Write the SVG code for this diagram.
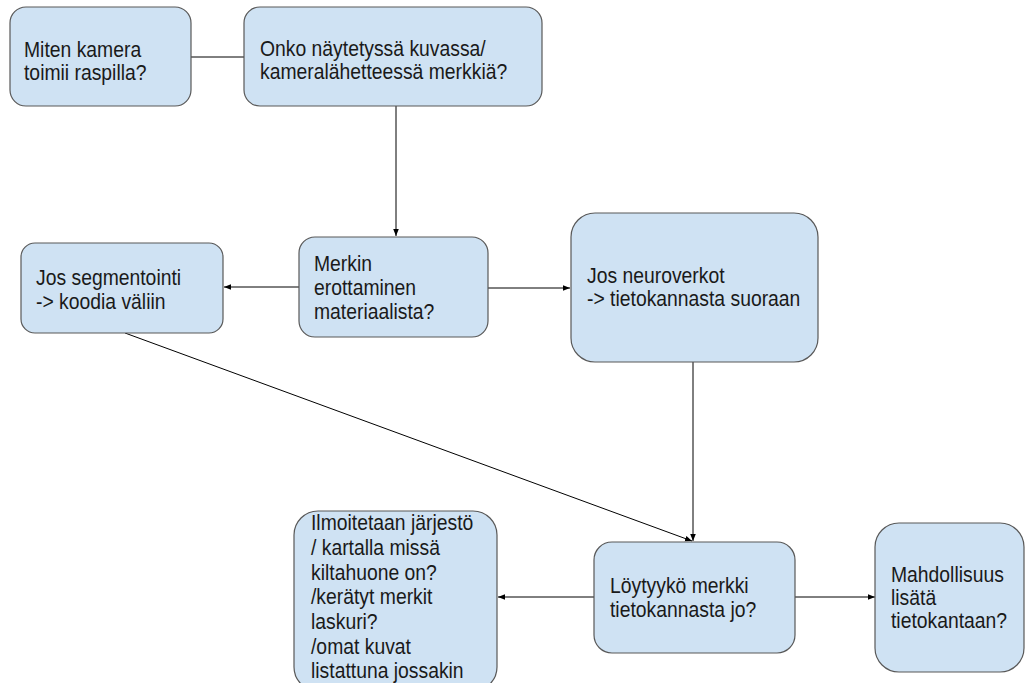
<svg xmlns="http://www.w3.org/2000/svg" width="1027" height="683" viewBox="0 0 1027 683">
<style>
.n{fill:#cfe2f3;stroke:#595959;stroke-width:1.2}
.t{font-family:"Liberation Sans",Arial,sans-serif;font-size:22.5px;fill:#1a1a1a}
.c{stroke:#000;stroke-width:1;fill:none}
</style>
<defs>
<marker id="a" viewBox="0 0 10 10" refX="10" refY="5" markerWidth="7" markerHeight="7" markerUnits="userSpaceOnUse" orient="auto">
<path d="M0,1 L10,5 L0,9 Z" fill="#000"/>
</marker>
</defs>
<rect width="1027" height="683" fill="#fff"/>
<g id="connectors">
<line class="c" x1="191" y1="57" x2="244" y2="57"/>
<line class="c" x1="396" y1="106" x2="396" y2="236" marker-end="url(#a)"/>
<line class="c" x1="299" y1="287" x2="224" y2="287" marker-end="url(#a)"/>
<line class="c" x1="488" y1="288" x2="570" y2="288" marker-end="url(#a)"/>
<line class="c" x1="693" y1="362" x2="693" y2="541" marker-end="url(#a)"/>
<line class="c" x1="125" y1="333" x2="692" y2="541" marker-end="url(#a)"/>
<line class="c" x1="594" y1="597" x2="498" y2="597" marker-end="url(#a)"/>
<line class="c" x1="795" y1="597" x2="875" y2="597" marker-end="url(#a)"/>
</g>
<g id="n1">
<rect class="n" x="10" y="7" width="181" height="99" rx="16"/>
<g transform="translate(24,0) scale(0.86,1)">
<text class="t" y="57">Miten kamera</text>
<text class="t" y="80">toimii raspilla?</text>
</g>
</g>
<g id="n2">
<rect class="n" x="244" y="7" width="298" height="99" rx="16"/>
<g transform="translate(260,0) scale(0.86,1)">
<text class="t" y="56">Onko näytetyssä kuvassa/</text>
<text class="t" y="79">kameralähetteessä merkkiä?</text>
</g>
</g>
<g id="n3">
<rect class="n" x="21" y="243" width="202" height="90" rx="14"/>
<g transform="translate(36,0) scale(0.86,1)">
<text class="t" y="285">Jos segmentointi</text>
<text class="t" y="309">-&gt; koodia väliin</text>
</g>
</g>
<g id="n4">
<rect class="n" x="299" y="237" width="189" height="100" rx="16"/>
<g transform="translate(314,0) scale(0.86,1)">
<text class="t" y="271">Merkin</text>
<text class="t" y="295">erottaminen</text>
<text class="t" y="319">materiaalista?</text>
</g>
</g>
<g id="n5">
<rect class="n" x="571" y="213" width="247" height="149" rx="24"/>
<g transform="translate(587,0) scale(0.86,1)">
<text class="t" y="283">Jos neuroverkot</text>
<text class="t" y="306">-&gt; tietokannasta suoraan</text>
</g>
</g>
<g id="n6">
<rect class="n" x="294" y="511" width="203" height="180" rx="24"/>
<g transform="translate(311,0) scale(0.86,1)">
<text class="t" y="530">Ilmoitetaan järjestö</text>
<text class="t" y="555">/ kartalla missä</text>
<text class="t" y="580">kiltahuone on?</text>
<text class="t" y="604">/kerätyt merkit</text>
<text class="t" y="629">laskuri?</text>
<text class="t" y="654">/omat kuvat</text>
<text class="t" y="678">listattuna jossakin</text>
</g>
</g>
<g id="n7">
<rect class="n" x="594" y="542" width="201" height="111" rx="18"/>
<g transform="translate(610,0) scale(0.86,1)">
<text class="t" y="593">Löytyykö merkki</text>
<text class="t" y="617">tietokannasta jo?</text>
</g>
</g>
<g id="n8">
<rect class="n" x="875" y="523" width="149" height="149" rx="24"/>
<g transform="translate(891,0) scale(0.86,1)">
<text class="t" y="582">Mahdollisuus</text>
<text class="t" y="605">lisätä</text>
<text class="t" y="628">tietokantaan?</text>
</g>
</g>
</svg>
